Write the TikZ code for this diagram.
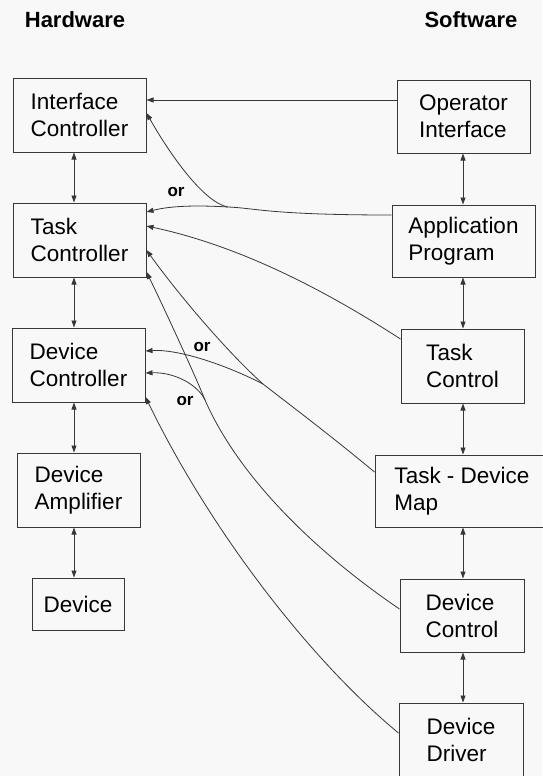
\documentclass[tikz,border=0pt]{standalone}
\usepackage{fontspec}
\setmainfont{Liberation Sans}
\usetikzlibrary{arrows.meta}
\definecolor{paper}{RGB}{247,248,247}
\definecolor{ink}{RGB}{55,55,55}
\begin{document}
\begin{tikzpicture}[x=1pt, y=-1pt,
        box/.style = {draw=ink, line width=1pt, align=left, inner sep=0pt,
            font=\fontsize{22.5}{27}\selectfont},
        head/.style = {font=\bfseries\fontsize{22}{26}\selectfont},
        ortext/.style = {font=\bfseries\fontsize{17}{19}\selectfont},
        conn/.style = {draw=ink, line width=0.8pt, -{Triangle[length=7pt,width=5pt]}},
        link/.style = {draw=ink, line width=0.8pt,
            {Triangle[length=7pt,width=5pt]}-{Triangle[length=7pt,width=5pt]}}]

    \fill[paper] (0,0) rectangle (542,776);
    \useasboundingbox (0,0) rectangle (542,776);

    \node[head] (hw) at (75,20) {Hardware};
    \node[head] (sw) at (471,20) {Software};

    \node[box, minimum width=133pt, minimum height=74pt] (ic) at (79.5,115) {Interface\\Controller};
    \node[box, minimum width=133pt, minimum height=74pt] (tc) at (79.5,240) {Task\\Controller};
    \node[box, minimum width=133pt, minimum height=74pt] (dc) at (78.5,365) {Device\\Controller};
    \node[box, minimum width=123pt, minimum height=74pt] (da) at (78.5,490) {Device\\Amplifier};
    \node[box, minimum width=92pt, minimum height=52pt] (dev) at (78,604) {Device};

    \node[box, minimum width=133pt, minimum height=73pt] (oi) at (463.5,116.5) {Operator\\Interface};
    \node[box, minimum width=143pt, minimum height=72pt] (ap) at (463.5,241) {Application\\Program};
    \node[box, minimum width=123pt, minimum height=74pt] (tct) at (462.5,366) {Task\\Control};
    \node[box, minimum width=174pt, minimum height=72pt] (tdm) at (462,491) {Task - Device\\Map};
    \node[box, minimum width=124pt, minimum height=73pt] (dct) at (462,615.5) {Device\\Control};
    \node[box, minimum width=124pt, minimum height=74pt] (dd) at (461,740) {Device\\Driver};

    \coordinate (hx) at (74,0);
    \coordinate (sx) at (463,0);
    \draw[link] (ic.south -| hx) -- (tc.north -| hx);
    \draw[link] (tc.south -| hx) -- (dc.north -| hx);
    \draw[link] (dc.south -| hx) -- (da.north -| hx);
    \draw[link] (da.south -| hx) -- (dev.north -| hx);
    \draw[link] (oi.south -| sx) -- (ap.north -| sx);
    \draw[link] (ap.south -| sx) -- (tct.north -| sx);
    \draw[link] (tct.south -| sx) -- (tdm.north -| sx);
    \draw[link] (tdm.south -| sx) -- (dct.north -| sx);
    \draw[link] (dct.south -| sx) -- (dd.north -| sx);

    \coordinate (j1) at (228,207);
    \coordinate (j2) at (263,384);
    \coordinate (j3) at (205,400);

    \draw[conn] (oi.west |- 0,100) -- (ic.east |- 0,100);
    \draw[conn] (ap.west |- 0,215) .. controls (270,215) and (255,208) .. (j1)
        .. controls (195,205) and (170,206) .. (tc.east |- 0,212);
    \draw[conn] (j1) .. controls (205,203) and (172,158) .. (ic.east |- 0,113);
    \draw[conn] (tct.west |- 0,339) .. controls (340,300) and (250,248) .. (tc.east |- 0,226);
    \draw[conn] (tdm.west |- 0,472) .. controls (330,435) and (290,405) .. (j2)
        .. controls (225,350) and (175,290) .. (tc.east |- 0,250);
    \draw[conn] (j2) .. controls (220,362) and (175,349) .. (dc.east |- 0,351);
    \draw[conn] (dct.west |- 0,609) .. controls (320,555) and (240,480) .. (j3)
        .. controls (195,375) and (165,310) .. (tc.east |- 0,272);
    \draw[conn] (j3) .. controls (198,385) and (175,372) .. (dc.east |- 0,373);
    \draw[conn] (dd.west |- 0,733) .. controls (310,660) and (210,530) .. (dc.east |- 0,397);

    \node[ortext] (or1) at (176,192) {or};
    \node[ortext] (or2) at (202,347) {or};
    \node[ortext] (or3) at (185,401) {or};

\end{tikzpicture}
\end{document}
